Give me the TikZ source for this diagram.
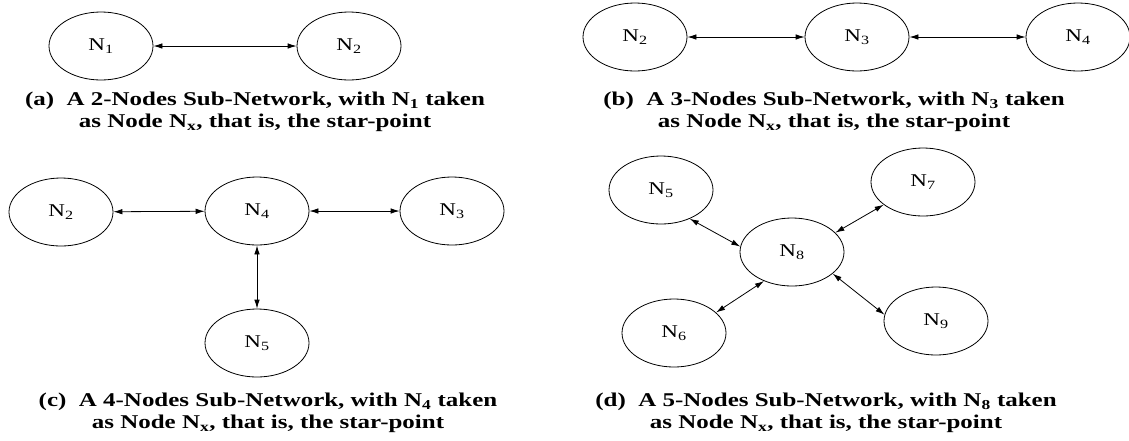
\documentclass[tikz,border=0pt]{standalone}
\usepackage{fontspec}
\setmainfont{Liberation Serif}[FakeStretch=1.28]
\usetikzlibrary{arrows.meta,shapes.geometric}
\begin{document}
\begin{tikzpicture}[x=1pt,y=-1pt,
  netnode/.style={draw, ellipse, line width=0.8pt, minimum width=104pt,
    minimum height=68pt, inner sep=0pt, font=\fontsize{18}{20}\selectfont},
  link/.style={line width=0.8pt,
    {Latex[length=9pt,width=5.5pt]}-{Latex[length=9pt,width=5.5pt]}},
  caption/.style={align=center, inner sep=0pt,
    font=\bfseries\fontsize{19.5}{22}\selectfont}]
\useasboundingbox (0,0) rectangle (1129,440);

% (a) two nodes
\node[netnode] (a1) at (101,46) {N\textsubscript{1}};
\node[netnode] (a2) at (349,46) {N\textsubscript{2}};
\draw[link] (a1) -- (a2);
\node[caption] (capa) at (255,112)
  {(a)\ \ A 2-Nodes Sub-Network, with N\textsubscript{1} taken\\
   as Node N\textsubscript{x}, that is, the star-point};

% (b) three nodes in a row
\node[netnode] (b2) at (635,37) {N\textsubscript{2}};
\node[netnode] (b3) at (857,37) {N\textsubscript{3}};
\node[netnode] (b4) at (1078,37) {N\textsubscript{4}};
\draw[link] (b2) -- (b3);
\draw[link] (b3) -- (b4);
\node[caption] (capb) at (834,112)
  {(b)\ \ A 3-Nodes Sub-Network, with N\textsubscript{3} taken\\
   as Node N\textsubscript{x}, that is, the star-point};

% (c) four nodes, T shape
\node[netnode] (c2) at (61,212) {N\textsubscript{2}};
\node[netnode] (c4) at (257,211) {N\textsubscript{4}};
\node[netnode] (c3) at (452,211) {N\textsubscript{3}};
\node[netnode] (c5) at (257,343) {N\textsubscript{5}};
\draw[link] (c2) -- (c4);
\draw[link] (c4) -- (c3);
\draw[link] (c4) -- (c5);
\node[caption] (capc) at (268,413)
  {(c)\ \ A 4-Nodes Sub-Network, with N\textsubscript{4} taken\\
   as Node N\textsubscript{x}, that is, the star-point};

% (d) five nodes, X shape
\node[netnode] (d8) at (792,252) {N\textsubscript{8}};
\node[netnode] (d5) at (661,190) {N\textsubscript{5}};
\node[netnode] (d7) at (923,182) {N\textsubscript{7}};
\node[netnode] (d6) at (674,333) {N\textsubscript{6}};
\node[netnode] (d9) at (936,321) {N\textsubscript{9}};
\draw[link] (d5.-45) -- (d8.174);
\draw[link] (d7.210) -- (d8.24);
\draw[link] (d6.26) -- (d8.226);
\draw[link] (d9.173) -- (d8.-28);
\node[caption] (capd) at (826,413)
  {(d)\ \ A 5-Nodes Sub-Network, with N\textsubscript{8} taken\\
   as Node N\textsubscript{x}, that is, the star-point};
\end{tikzpicture}
\end{document}
